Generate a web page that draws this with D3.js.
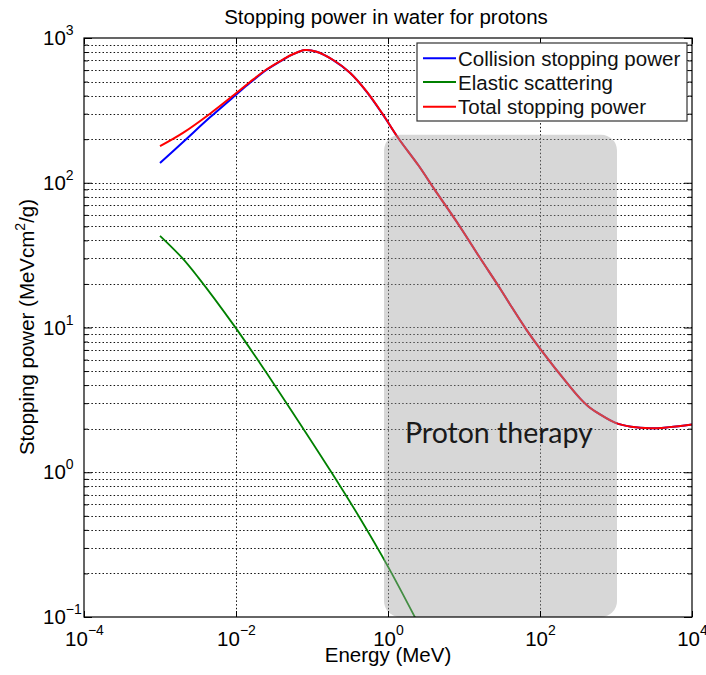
<!DOCTYPE html>
<html>
<head>
<meta charset="utf-8">
<script src="https://cdn.jsdelivr.net/npm/d3@7/dist/d3.min.js"></script>
<style>
  body { margin: 0; background: #fff; }
  svg { display: block; font-family: "Liberation Sans", Arial, sans-serif; }
</style>
</head>
<body>
<svg id="chart" width="706" height="675"></svg>
<script>
// values (MeV, MeV cm2/g)
var energyTotal = [0.001, 0.00203, 0.00455, 0.01, 0.0153, 0.0254, 0.0419, 0.0568, 0.0809, 0.115, 0.19, 0.316, 0.525, 0.867,
                   1.37, 2.51, 4.15, 8.85, 16.2, 29.8, 39.8, 66.8, 100, 248, 336, 450, 600, 970, 1585, 2800, 5012, 10000];
var totalPower = [179, 222, 300, 415, 497, 608, 713, 775, 826, 804, 705, 576, 426, 294,
                  203, 132, 89, 49.7, 30.3, 18.6, 14.6, 9.6, 7.15, 3.9, 3.24, 2.8, 2.53, 2.2, 2.06, 2.01, 2.05, 2.14];
var collisionPower = [137, 192, 283, 405, 490, 604, 710, 773, 825, 803, 704, 575, 425, 293,
                      203, 132, 89, 49.7, 30.3, 18.6, 14.6, 9.6, 7.15, 3.9, 3.24, 2.8, 2.53, 2.2, 2.06, 2.01, 2.05, 2.14];
var energyElastic = [0.001, 0.00193, 0.00316, 0.0097, 0.0207, 0.0465, 0.18, 0.428, 1.0, 2.3];
var elasticPower = [43, 30.5, 22.3, 10.1, 5.66, 2.99, 1.0, 0.481, 0.223, 0.098];

var xTickExp = [-4, -2, 0, 2, 4];
var yTickExp = [-1, 0, 1, 2, 3];
var legendNames = ["Collision stopping power", "Elastic scattering", "Total stopping power"];
var legendColors = ["#0000ff", "#008000", "#ff0000"];
var therapyRange = [1, 1000];     // MeV, shaded band
var therapyTop = 215;             // MeV cm2/g, top of band

var svg = d3.select("#chart");
var pL = 84, pR = 692, pT = 38, pB = 617;   // plot box

var x = d3.scaleLog().domain([1e-4, 1e4]).range([pL, pR]);
var y = d3.scaleLog().domain([0.1, 1000]).range([pB, pT]);

// y values for all decades plus minors 2..9
var yMajor = yTickExp.map(function(e){ return Math.pow(10, e); });
var yMinor = [];
for (var e = -1; e < 3; e++) {
    for (var m = 2; m <= 9; m++) yMinor.push(m * Math.pow(10, e));
}
var xMajor = xTickExp.map(function(e){ return Math.pow(10, e); });

// grid
var grid = svg.append("g").attr("stroke", "#111").attr("stroke-width", 1)
    .attr("stroke-dasharray", "1.5,2.2");
grid.selectAll("line.h")
    .data(yMinor.concat(yMajor.slice(1, -1)))
    .enter().append("line")
    .attr("x1", pL).attr("x2", pR)
    .attr("y1", function(d){ return Math.round(y(d)) + 0.5; })
    .attr("y2", function(d){ return Math.round(y(d)) + 0.5; });
grid.selectAll("line.v")
    .data(xMajor.slice(1, -1))
    .enter().append("line")
    .attr("y1", pT).attr("y2", pB)
    .attr("x1", function(d){ return Math.round(x(d)) + 0.5; })
    .attr("x2", function(d){ return Math.round(x(d)) + 0.5; });

// curves
svg.append("clipPath").attr("id", "plotclip")
    .append("rect").attr("x", pL).attr("y", pT)
    .attr("width", pR - pL).attr("height", pB - pT);

var line = d3.line()
    .x(function(d){ return x(d[0]); })
    .y(function(d){ return y(d[1]); })
    .curve(d3.curveCatmullRom.alpha(0.5));

var curves = svg.append("g").attr("clip-path", "url(#plotclip)").attr("fill", "none");
curves.append("path")
    .attr("d", line(d3.zip(energyTotal, collisionPower)))
    .attr("stroke", legendColors[0]).attr("stroke-width", 2);
curves.append("path")
    .attr("d", line(d3.zip(energyElastic, elasticPower)))
    .attr("stroke", legendColors[1]).attr("stroke-width", 1.8);
curves.append("path")
    .attr("d", line(d3.zip(energyTotal, totalPower)))
    .attr("stroke", legendColors[2]).attr("stroke-width", 2);

// proton therapy band (semi-transparent overlay)
svg.append("rect")
    .attr("x", x(therapyRange[0]) - 4)
    .attr("y", y(therapyTop))
    .attr("width", x(therapyRange[1]) - x(therapyRange[0]) + 5)
    .attr("height", pB - y(therapyTop))
    .attr("rx", 16).attr("ry", 16)
    .attr("fill", "#a0a0a0").attr("fill-opacity", 0.42);

svg.append("text")
    .attr("x", 405).attr("y", 443)
    .attr("font-family", "Lato, 'Open Sans', sans-serif")
    .attr("font-size", 28.5)
    .attr("fill", "#1a1a1a")
    .text("Proton therapy");

// axes (ticks inside)
function supLabels(sel, sx, sy) {
    sel.selectAll(".tick text").each(function(d){
        var t = d3.select(this);
        var ex = Math.round(Math.log10(d));
        t.text("10");
        t.append("tspan")
            .attr("dy", sy).attr("dx", sx)
            .attr("font-size", 14)
            .text(ex < 0 ? "\u2212" + (-ex) : ex);
    });
}

var xb = svg.append("g").attr("transform", "translate(0," + pB + ")")
    .call(d3.axisBottom(x).tickValues(xMajor).tickSize(-6).tickSizeOuter(0));
xb.selectAll(".tick text").attr("y", 29).attr("dy", null);
xb.call(supLabels, 0, -11);

svg.append("g").attr("transform", "translate(0," + pT + ")")
    .call(d3.axisTop(x).tickValues(xMajor).tickSize(-6).tickSizeOuter(0).tickFormat(""));

var yl = svg.append("g").attr("transform", "translate(" + pL + ",0)")
    .call(d3.axisLeft(y).tickValues(yMajor).tickSize(-8).tickSizeOuter(0));
yl.selectAll(".tick text").attr("x", -41).attr("text-anchor", "start");
yl.call(supLabels, 0, -10);
svg.append("g").attr("transform", "translate(" + pL + ",0)")
    .call(d3.axisLeft(y).tickValues(yMinor).tickSize(-4).tickSizeOuter(0).tickFormat(""));

svg.append("g").attr("transform", "translate(" + pR + ",0)")
    .call(d3.axisRight(y).tickValues(yMajor).tickSize(-8).tickSizeOuter(0).tickFormat(""));
svg.append("g").attr("transform", "translate(" + pR + ",0)")
    .call(d3.axisRight(y).tickValues(yMinor).tickSize(-4).tickSizeOuter(0).tickFormat(""));

svg.selectAll(".domain").remove();
svg.selectAll(".tick line").attr("stroke", "#000").attr("stroke-width", 1);
svg.selectAll(".tick text")
    .attr("font-family", "'Liberation Sans', Arial, sans-serif")
    .attr("font-size", 20.5).attr("fill", "#000");

// plot frame
svg.append("rect")
    .attr("x", pL).attr("y", pT)
    .attr("width", pR - pL).attr("height", pB - pT)
    .attr("fill", "none").attr("stroke", "#000").attr("stroke-width", 1.2);

// legend
var lg = svg.append("g");
lg.append("rect")
    .attr("x", 417).attr("y", 43).attr("width", 270).attr("height", 78)
    .attr("fill", "#fff").attr("stroke", "#333").attr("stroke-width", 1.2);
var rowY = [58.3, 82, 106.7];
legendNames.forEach(function(name, i){
    lg.append("line")
        .attr("x1", 423).attr("x2", 456)
        .attr("y1", rowY[i]).attr("y2", rowY[i])
        .attr("stroke", legendColors[i]).attr("stroke-width", 2);
    lg.append("text")
        .attr("x", 458).attr("y", rowY[i] + 7.5)
        .attr("font-size", 20.5).attr("fill", "#111")
        .text(name);
});

// titles
svg.append("text")
    .attr("x", 386).attr("y", 24)
    .attr("text-anchor", "middle").attr("font-size", 20.5)
    .text("Stopping power in water for protons");

svg.append("text")
    .attr("x", 388).attr("y", 662)
    .attr("text-anchor", "middle").attr("font-size", 20.5)
    .text("Energy (MeV)");

var yt = svg.append("text")
    .attr("transform", "translate(34,327) rotate(-90)")
    .attr("text-anchor", "middle").attr("font-size", 20.5);
yt.append("tspan").text("Stopping power (MeVcm");
yt.append("tspan").attr("dy", -9).attr("font-size", 14).text("2");
yt.append("tspan").attr("dy", 9).text("/g)");
</script>
</body>
</html>
